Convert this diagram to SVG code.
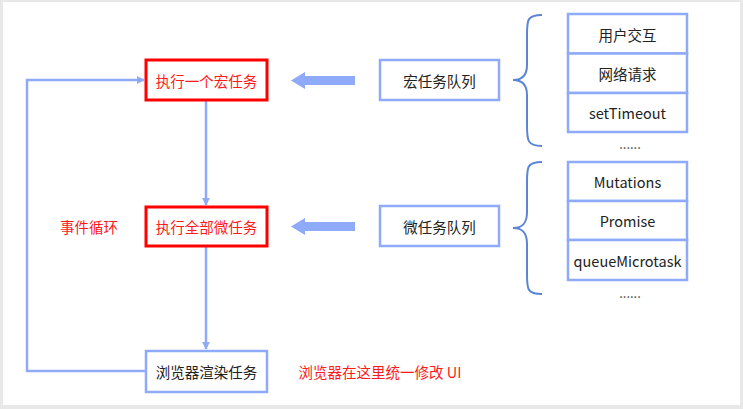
<svg xmlns="http://www.w3.org/2000/svg" width="743" height="409" viewBox="0 0 743 409">
<defs>
<style>
.t{font-family:"Noto Sans CJK SC","Noto Sans",sans-serif;font-size:14.5px;text-anchor:middle;dominant-baseline:central;fill:#222}
.r{fill:#ff1a1a}
.d{font-size:13px;fill:#444}
.rb{fill:#fff;stroke:#ff0000;stroke-width:3}
.bb{fill:#fff;stroke:#8eaaf8;stroke-width:2.5}
.ln{fill:none;stroke:#8eaaf8;stroke-width:2.5}
.br{fill:none;stroke:#5b86d6;stroke-width:2}
</style>
<marker id="ah" viewBox="0 0 10 10" refX="9" refY="5" markerWidth="3.2" markerHeight="3.2" orient="auto" markerUnits="strokeWidth">
<path d="M0,0 L10,5 L0,10 z" fill="#8eaaf8"/>
</marker>
</defs>
<rect x="0" y="0" width="743" height="409" fill="#e8e8e8"/>
<rect x="3" y="2" width="737" height="403" fill="#ffffff"/>

<g id="connectors">
<path class="ln" d="M146,371 H27 V80 H144" marker-end="url(#ah)"/>
<path class="ln" d="M206,101 V205" marker-end="url(#ah)"/>
<path class="ln" d="M206,247 V349" marker-end="url(#ah)"/>
<path d="M355,76 H305 V72 L291,80.5 L305,89 V85 H355 z" fill="#8eaaf8"/>
<path d="M355,222 H305 V218 L291,226.5 L305,235 V231 H355 z" fill="#8eaaf8"/>
<path class="br" d="M542,15 C527,15 527,20 527,35 V65 C527,76 522,80 513,80 C522,80 527,84 527,95 V125 C527,140 527,146 542,146"/>
<path class="br" d="M542,162 C527,162 527,167 527,182 V212 C527,224 522,228 513,228 C522,228 527,232 527,244 V274 C527,289 527,294 542,294"/>
</g>

<g id="macro-exec"><rect class="rb" x="146" y="60" width="121" height="40"/><text class="t r" x="206.5" y="80">执行一个宏任务</text></g>
<g id="micro-exec"><rect class="rb" x="146" y="207" width="121" height="39"/><text class="t r" x="206.5" y="226.5">执行全部微任务</text></g>
<g id="render"><rect class="bb" x="146" y="351" width="121" height="41"/><text class="t" x="206.5" y="371.5">浏览器渲染任务</text></g>
<g id="loop-label"><text class="t r" x="89" y="226">事件循环</text></g>
<g id="ui-label"><text class="t r" x="380" y="371">浏览器在这里统一修改 UI</text></g>

<g id="macro-queue"><rect class="bb" x="380" y="60" width="119" height="40"/><text class="t" x="439.5" y="80">宏任务队列</text></g>
<g id="micro-queue"><rect class="bb" x="380" y="206" width="119" height="40"/><text class="t" x="439.5" y="226">微任务队列</text></g>

<g id="macro-list">
<rect class="bb" x="568" y="14" width="119" height="39.5"/><text class="t" x="627.5" y="34">用户交互</text>
<rect class="bb" x="568" y="53.5" width="119" height="39.5"/><text class="t" x="627.5" y="73">网络请求</text>
<rect class="bb" x="568" y="93" width="119" height="39"/><text class="t" x="627.5" y="112.5">setTimeout</text>
<text class="t d" x="630" y="143">......</text>
</g>
<g id="micro-list">
<rect class="bb" x="568" y="162" width="119" height="39"/><text class="t" x="627.5" y="181.5">Mutations</text>
<rect class="bb" x="568" y="201" width="119" height="39"/><text class="t" x="627.5" y="220.5">Promise</text>
<rect class="bb" x="568" y="240" width="119" height="40"/><text class="t" x="627.5" y="260">queueMicrotask</text>
<text class="t d" x="630" y="292">......</text>
</g>
</svg>
